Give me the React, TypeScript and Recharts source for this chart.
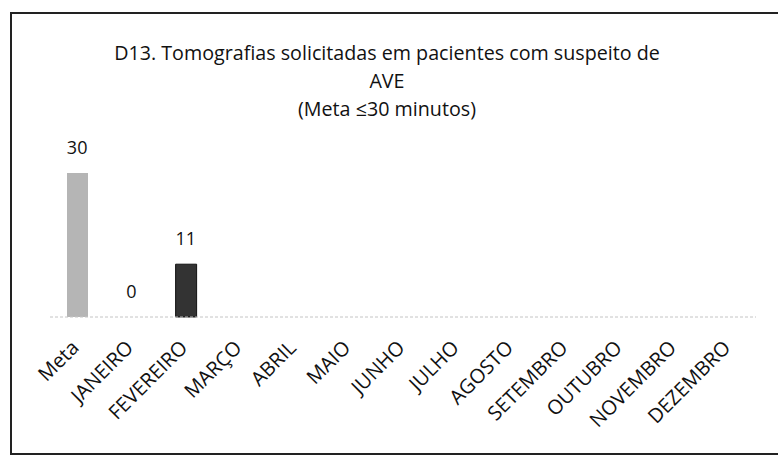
import React from "react";
import { ComposedChart, Bar, Line, XAxis, YAxis, Cell, LabelList } from "recharts";

const categories = ["Meta", "JANEIRO", "FEVEREIRO", "MARÇO", "ABRIL", "MAIO", "JUNHO", "JULHO", "AGOSTO", "SETEMBRO", "OUTUBRO", "NOVEMBRO", "DEZEMBRO"];
const values: (number | null)[] = [30, 0, 11, null, null, null, null, null, null, null, null, null, null];
const barColors = ["#b5b5b5", "#9a9a9a", "#333333", "#888", "#888", "#888", "#888", "#888", "#888", "#888", "#888", "#888", "#888"];
const titleLines = ["D13. Tomografias solicitadas em pacientes com suspeito de", "AVE", "(Meta ≤30 minutos)"];

const data = categories.map((c, i) => ({ name: c, value: values[i] }));

const FONT = "'Open Sans', 'Noto Sans', sans-serif";

const Tick = (props: any) => {
  const { x, y, payload } = props;
  return (
    <g transform={`translate(${x + 3},${y + 24})`}>
      <text x={0} y={0} textAnchor="end" transform="rotate(-45)" fontFamily={FONT} fontSize={20} fill="#111">
        {payload.value}
      </text>
    </g>
  );
};

const ValueLabel = (props: any) => {
  const { x, y, value } = props;
  if (value === null || value === undefined) return null;
  return (
    <text x={x} y={y - 19} textAnchor="middle" fontFamily={FONT} fontSize={18} fill="#111">
      {value}
    </text>
  );
};

export default function App() {
  return (
    <div style={{ position: "absolute", left: 0, top: 0, width: 778, height: 459, background: "#fff", overflow: "hidden" }}>
      <div style={{ position: "absolute", left: 10, top: 12, width: 800, height: 443, border: "2px solid #222", boxSizing: "border-box" }} />
      {titleLines.map((t, i) => (
        <div
          key={i}
          style={{
            position: "absolute",
            left: 0,
            width: 778,
            top: 40 + i * 28,
            textAlign: "center",
            fontFamily: FONT,
            fontSize: 19.7,
            lineHeight: "26px",
            color: "#111",
            transform: "translateX(-2px)",
            whiteSpace: "nowrap",
          }}
        >
          {t}
        </div>
      ))}
      <div style={{ position: "absolute", left: 0, top: 0 }}>
        <ComposedChart width={778} height={459} data={data} margin={{ top: 149, right: 22, bottom: 0, left: 50 }} barCategoryGap={0}>
          <YAxis hide domain={[0, 35]} width={0} />
          <XAxis
            dataKey="name"
            interval={0}
            height={142}
            tickLine={false}
            axisLine={{ stroke: "#c4c4c4", strokeWidth: 1, strokeDasharray: "3 2" }}
            tick={<Tick />}
          />
          <Bar dataKey="value" barSize={21} isAnimationActive={false}>
            {data.map((d, i) => (
              <Cell key={i} fill={barColors[i]} stroke={i === 2 ? "#111" : "none"} />
            ))}
          </Bar>
          <Line dataKey="value" stroke="none" dot={false} activeDot={false} isAnimationActive={false} connectNulls={false}>
            <LabelList dataKey="value" content={<ValueLabel />} />
          </Line>
        </ComposedChart>
      </div>
    </div>
  );
}
